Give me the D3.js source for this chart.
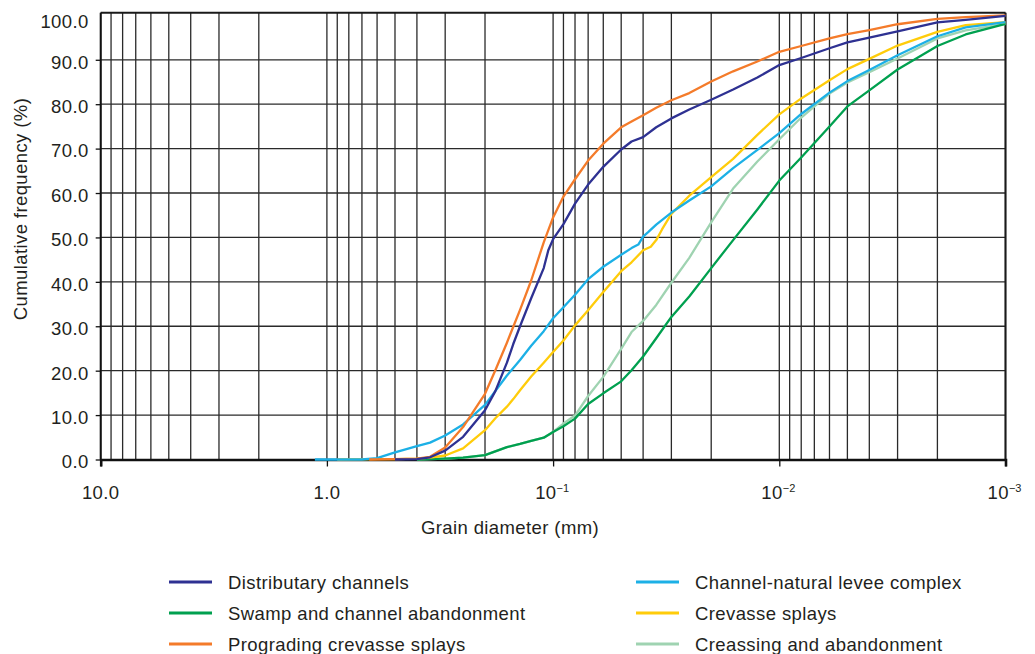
<!DOCTYPE html>
<html>
<head>
<meta charset="utf-8">
<script src="https://cdn.jsdelivr.net/npm/d3@7"></script>
<style>
  body { margin: 0; background: #fff; }
  svg { display: block; }
  text { font-family: "Liberation Sans", Arial, Helvetica, sans-serif; fill: #231f20; }
</style>
</head>
<body>
<svg id="chart" width="1035" height="654"></svg>
<script>
// ---------- DATA (grain diameter in mm, cumulative frequency in %) ----------
const distributaryChannels = [
  [0.5,0],[0.4,0.1],[0.35,0.5],[0.3,2.0],[0.25,5.1],[0.2,11.1],[0.18,15.4],[0.16,21.8],
  [0.15,26.0],[0.14,30.0],[0.125,36.3],[0.11,43.1],[0.105,47.1],[0.1,49.6],[0.09,53.0],
  [0.08,57.6],[0.07,61.9],[0.06,65.9],[0.05,69.8],[0.045,71.6],[0.04,72.6],[0.035,74.8],
  [0.03,76.8],[0.025,78.8],[0.02,81.0],[0.016,83.3],[0.0125,86.0],[0.01,88.8],[0.008,90.4],
  [0.006,92.6],[0.005,93.9],[0.004,95.0],[0.003,96.4],[0.002,98.4],[0.0015,99.0],[0.001,99.9]
];
const swampAbandonment = [
  [0.4,0],[0.35,0.1],[0.3,0.2],[0.25,0.4],[0.2,1.0],[0.16,2.8],[0.14,3.5],[0.125,4.2],
  [0.11,4.9],[0.1,6.2],[0.09,7.5],[0.08,9.2],[0.07,12.5],[0.06,14.9],[0.05,17.6],[0.045,20.1],
  [0.04,23.2],[0.035,27.3],[0.03,32.1],[0.025,36.7],[0.02,43.1],[0.016,49.4],[0.0125,56.3],
  [0.01,62.8],[0.008,68.0],[0.006,75.0],[0.005,79.5],[0.004,83.1],[0.003,87.8],[0.002,93.1],
  [0.0015,95.7],[0.001,98.1]
];
const progradingSplays = [
  [0.65,0],[0.5,0.1],[0.4,0.2],[0.35,0.6],[0.3,2.7],[0.25,7.3],[0.2,14.8],[0.18,20.1],
  [0.16,26.3],[0.15,29.9],[0.14,33.7],[0.125,40.3],[0.11,48.9],[0.1,54.5],[0.09,59.2],
  [0.08,63.1],[0.07,67.3],[0.06,71.1],[0.05,74.8],[0.045,76.1],[0.04,77.5],[0.035,79.2],
  [0.03,80.9],[0.025,82.5],[0.02,85.1],[0.016,87.4],[0.0125,89.6],[0.01,91.8],[0.008,93.1],
  [0.006,94.8],[0.005,95.8],[0.004,96.7],[0.003,98.0],[0.002,99.2],[0.0015,99.6],[0.001,100]
];
const leveeComplex = [
  [1.13,0],[0.7,0],[0.6,0.3],[0.5,1.6],[0.4,3.0],[0.35,3.8],[0.3,5.4],[0.25,7.9],[0.2,12.3],
  [0.16,18.9],[0.14,22.4],[0.125,25.6],[0.11,28.9],[0.1,31.8],[0.09,34.3],[0.08,37.1],
  [0.07,40.6],[0.06,43.4],[0.05,46.1],[0.045,47.6],[0.042,48.4],[0.04,50.2],[0.038,51.2],
  [0.035,52.9],[0.03,55.6],[0.025,58.3],[0.02,61.5],[0.016,65.6],[0.0125,69.7],[0.01,73.5],
  [0.008,77.8],[0.006,82.6],[0.005,85.2],[0.004,87.7],[0.003,91.0],[0.002,95.3],[0.0015,97.3],
  [0.001,98.5]
];
const crevasseSplays = [
  [0.9,0],[0.6,0.1],[0.5,0.1],[0.4,0.2],[0.35,0.4],[0.3,0.9],[0.25,2.5],[0.2,6.6],[0.18,9.3],
  [0.16,11.9],[0.15,13.6],[0.14,15.6],[0.125,18.7],[0.11,21.8],[0.1,24.2],[0.09,26.8],
  [0.08,30.2],[0.07,33.6],[0.06,37.7],[0.05,42.4],[0.045,44.4],[0.04,47.1],[0.037,47.9],
  [0.035,49.4],[0.033,51.8],[0.03,55.3],[0.025,59.4],[0.02,63.6],[0.016,67.7],[0.0125,73.1],
  [0.01,77.7],[0.008,81.3],[0.006,85.4],[0.005,87.9],[0.004,90.2],[0.003,93.2],[0.002,96.3],
  [0.0015,97.8],[0.001,98.5]
];
const creassingAbandonment = [
  [0.4,0],[0.35,0.1],[0.3,0.2],[0.25,0.4],[0.2,1.0],[0.16,2.8],[0.14,3.5],[0.125,4.2],
  [0.11,4.9],[0.1,6.2],[0.09,8.1],[0.08,9.9],[0.07,14.3],[0.06,18.6],[0.05,24.9],[0.045,28.7],
  [0.04,31.2],[0.035,34.8],[0.03,39.8],[0.025,45.4],[0.02,53.4],[0.016,61.0],[0.0125,67.1],
  [0.01,72.1],[0.008,77.0],[0.006,82.4],[0.005,84.9],[0.004,87.2],[0.003,90.3],[0.002,94.8],
  [0.0015,96.6],[0.001,98.1]
];

const seriesNames = [
  "Distributary channels", "Swamp and channel abandonment", "Prograding crevasse splays",
  "Channel-natural levee complex", "Crevasse splays", "Creassing and abandonment"
];
const yTickValues = [0, 10, 20, 30, 40, 50, 60, 70, 80, 90, 100];
const xDecades = [10, 1, 0.1, 0.01, 0.001];
const xDecadeBases = ["10.0", "1.0", "10", "10", "10"];
const xDecadeExponents = ["", "", "\u22121", "\u22122", "\u22123"];
const xTitle = "Grain diameter (mm)";
const yTitle = "Cumulative frequency (%)";

// ---------- STYLES ----------
const seriesColors = ["#2e3192", "#00a04f", "#f47b2a", "#1cb0e6", "#ffcc0a", "#9fd3b1"];
const seriesData = [distributaryChannels, swampAbandonment, progradingSplays,
                    leveeComplex, crevasseSplays, creassingAbandonment];
const series = seriesNames.map((name, i) => ({ name, color: seriesColors[i], values: seriesData[i] }));
const drawOrder = [5, 1, 4, 3, 2, 0];

// ---------- LAYOUT ----------
const svg = d3.select("#chart");
const pLeft = 100.7, pRight = 1005.5, pTop = 12.7, pBottom = 459.5;

const x = d3.scaleLog().domain([10, 0.001]).range([pLeft, pRight]);
const y = d3.scaleLinear().domain([0, 100.6]).range([pBottom, pTop]);

const fontSize = "18.5px", letterSp = "0.4px";

// Vertical grid lines (1..9 x each decade)
const gridX = [10];
[1, 0.1, 0.01, 0.001].forEach(base => {
  for (let k = 1; k <= 9; k++) gridX.push(+(k * base).toPrecision(3));
});
const grid = svg.append("g");
grid.selectAll("line.v").data(gridX).join("line").attr("class", "v")
  .attr("x1", d => x(d)).attr("x2", d => x(d))
  .attr("y1", pTop).attr("y2", pBottom)
  .attr("stroke", "#2a2a2a").attr("stroke-width", 1.3);
grid.selectAll("line.h").data(yTickValues.filter(v => v > 0 && v < 100)).join("line").attr("class", "h")
  .attr("x1", pLeft).attr("x2", pRight)
  .attr("y1", d => y(d)).attr("y2", d => y(d))
  .attr("stroke", "#2a2a2a").attr("stroke-width", 1.3);

// Frame
svg.append("line").attr("x1", pLeft).attr("x2", pRight).attr("y1", pTop).attr("y2", pTop)
  .attr("stroke", "#1a1a1a").attr("stroke-width", 2);
svg.append("line").attr("x1", pRight).attr("x2", pRight).attr("y1", pTop).attr("y2", pBottom)
  .attr("stroke", "#1a1a1a").attr("stroke-width", 2);
svg.append("line").attr("x1", pLeft).attr("x2", pLeft).attr("y1", pTop).attr("y2", pBottom)
  .attr("stroke", "#111").attr("stroke-width", 2);

// Y axis
const yAxis = d3.axisLeft(y).tickValues(yTickValues.filter(v => v < 100))
  .tickSize(5).tickPadding(7).tickFormat(d3.format(".1f"));
const gy = svg.append("g").attr("transform", `translate(${pLeft},0)`).call(yAxis);
gy.select(".domain").remove();
gy.attr("font-family", null).attr("font-size", null);
gy.selectAll(".tick line").attr("stroke", "#111").attr("stroke-width", 1.3);
gy.selectAll(".tick text").attr("font-size", fontSize).attr("letter-spacing", letterSp)
  .attr("dy", "0.45em").attr("fill", "#231f20");
// 100.0 label (sits at the top frame)
svg.append("text").attr("x", pLeft - 12).attr("y", Math.max(y(100) + 2, 22))
  .attr("text-anchor", "end").attr("dy", "0.35em")
  .attr("font-size", fontSize).attr("letter-spacing", letterSp)
  .text(d3.format(".1f")(yTickValues[yTickValues.length - 1]));

// X axis
const xAxis = d3.axisBottom(x).tickValues(xDecades).tickSize(7).tickFormat("");
const gx = svg.append("g").attr("transform", `translate(0,${pBottom})`).call(xAxis);
gx.select(".domain").attr("stroke", "#111").attr("stroke-width", 2.6);
gx.selectAll(".tick line").attr("stroke", "#111").attr("stroke-width", 1.3);

const xl = svg.append("g").selectAll("text").data(xDecades).join("text")
  .attr("x", (d, i) => x(d) - (i >= 2 ? 1 : 0)).attr("y", 499)
  .attr("text-anchor", "middle")
  .attr("font-size", fontSize).attr("letter-spacing", letterSp);
xl.append("tspan").text((d, i) => xDecadeBases[i]);
xl.append("tspan").attr("dy", -7).attr("font-size", "11px").attr("letter-spacing", "0px")
  .text((d, i) => xDecadeExponents[i]);

// Axis titles
svg.append("text").attr("x", 510).attr("y", 534).attr("text-anchor", "middle")
  .attr("font-size", fontSize).attr("letter-spacing", letterSp).text(xTitle);
svg.append("text").attr("transform", "translate(27,209) rotate(-90)")
  .attr("text-anchor", "middle")
  .attr("font-size", fontSize).attr("letter-spacing", letterSp).text(yTitle);

// Curves
const line = d3.line().x(d => x(d[0])).y(d => y(d[1]));
svg.append("g").selectAll("path").data(drawOrder.map(i => series[i])).join("path")
  .attr("d", d => line(d.values))
  .attr("fill", "none").attr("stroke", d => d.color)
  .attr("stroke-width", 2.3).attr("stroke-linejoin", "round");

// Legend
const legendCols = [169, 636];
const legendRows = [582, 613, 644];
const lg = svg.append("g").selectAll("g").data(series).join("g")
  .attr("transform", (d, i) => `translate(${legendCols[Math.floor(i / 3)]},${legendRows[i % 3]})`);
lg.append("line").attr("x1", 0).attr("x2", 43).attr("y1", 0).attr("y2", 0)
  .attr("stroke", d => d.color).attr("stroke-width", 3);
lg.append("text").attr("x", 59).attr("y", 6.5)
  .attr("font-size", fontSize).attr("letter-spacing", letterSp).text(d => d.name);
</script>
</body>
</html>
